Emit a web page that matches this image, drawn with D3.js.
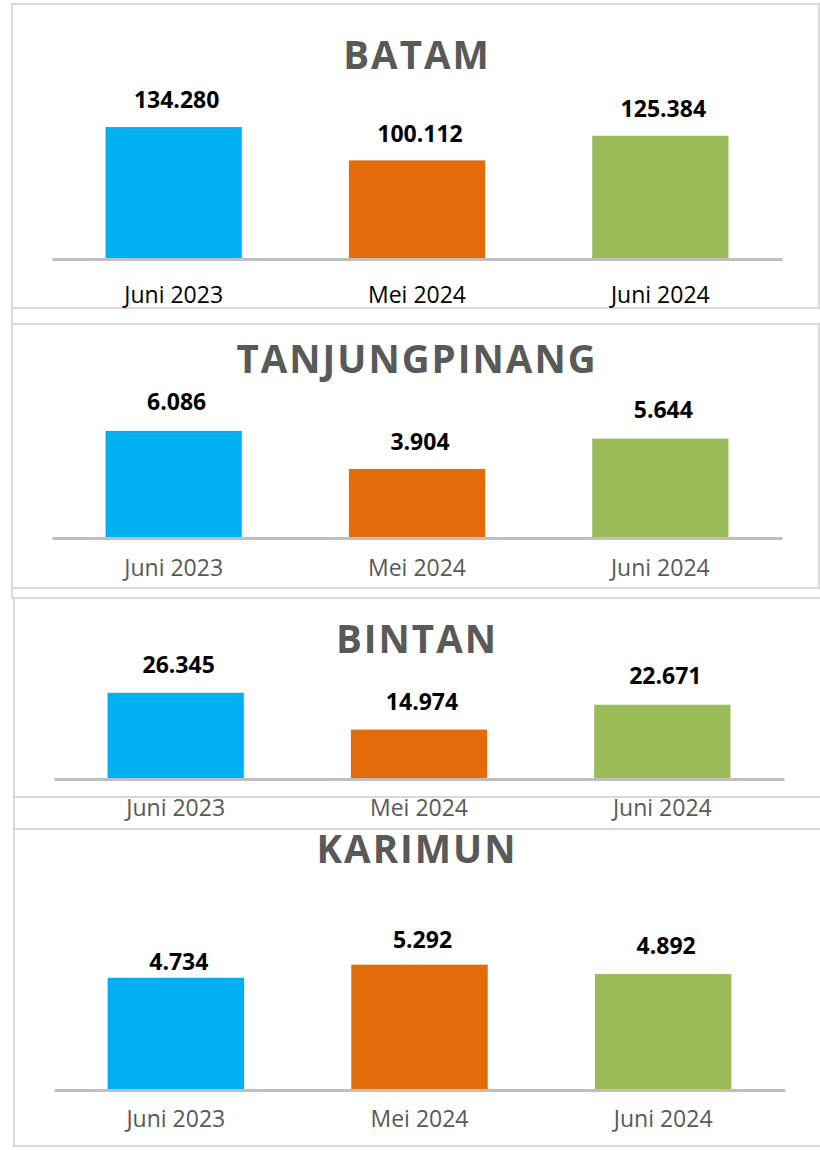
<!DOCTYPE html>
<html>
<head>
<meta charset="utf-8">
<script src="https://cdn.jsdelivr.net/npm/d3@7"></script>
<style>
  body { margin: 0; background: #fff; }
  svg { display: block; font-family: "Open Sans", sans-serif; }
  .frame { fill: none; stroke: #d9d9d9; stroke-width: 2; }
  .title { font-weight: 700; fill: #595959; text-anchor: middle; letter-spacing: 2px; }
  .value { font-weight: 700; fill: #000; text-anchor: middle; }
  .axis .domain { stroke: #bfbfbf; stroke-width: 3; }
  .axis text { font-family: "Open Sans", sans-serif; }
</style>
</head>
<body>
<div class="chart"></div>
<script>
// data
var months = ["Juni 2023", "Mei 2024", "Juni 2024"];
var regions = ["BATAM", "TANJUNGPINANG", "BINTAN", "KARIMUN"];
var batam = [134280, 100112, 125384];
var tanjungpinang = [6086, 3904, 5644];
var bintan = [26345, 14974, 22671];
var karimun = [4734, 5292, 4892];
var colorrange = ["#00b0f0", "#e36c0a", "#9bbb59"];

var series = [batam, tanjungpinang, bintan, karimun];

// layout of each panel
var panels = [
  {titleY: 69, base: 258, yMax: 160000, plotH: 156, x0: 52, x1: 782, pad: 28, labelColor: "#000", lift: [19, 18, 19]},
  {titleY: 373, base: 537, yMax: 7000, plotH: 122, x0: 52, x1: 782, pad: 22, labelColor: "#595959", lift: [21, 19, 21]},
  {titleY: 653, base: 778, yMax: 30000, plotH: 97, x0: 54, x1: 784, pad: 21, labelColor: "#595959", lift: [20, 20, 21]},
  {titleY: 863, base: 1089, yMax: 6000, plotH: 141, x0: 54, x1: 785, pad: 21, labelColor: "#595959", lift: [8, 17, 20]}
];

var frames = [
  {x: 12, y: 4, w: 807, h: 304},
  {x: 12, y: 308, w: 830, h: 16},
  {x: 12, y: 324, w: 807, h: 264},
  {x: 12, y: 588, w: 830, h: 10},
  {x: 14, y: 598, w: 830, h: 199},
  {x: 14, y: 797, w: 830, h: 32},
  {x: 14, y: 829, w: 830, h: 317}
];

var fmt = d3.formatLocale({decimal: ",", thousands: ".", grouping: [3], currency: ["Rp", ""]}).format(",d");

var svg = d3.select(".chart")
  .append("svg")
  .attr("width", 820)
  .attr("height", 1150);

svg.selectAll(".frame")
  .data(frames)
  .enter().append("rect")
    .attr("class", "frame")
    .attr("x", function(d) { return d.x; })
    .attr("y", function(d) { return d.y; })
    .attr("width", function(d) { return d.w; })
    .attr("height", function(d) { return d.h; });

panels.forEach(function(p, k) {
  var values = series[k];
  var data = months.map(function(m, i) { return {month: m, value: values[i], lift: p.lift[i]}; });

  var x = d3.scaleBand()
    .domain(months)
    .range([p.x0, p.x1])
    .paddingInner(0.44)
    .paddingOuter(0.22);
  var y = d3.scaleLinear()
    .domain([0, p.yMax])
    .range([p.base, p.base - p.plotH]);
  var z = d3.scaleOrdinal().domain(months).range(colorrange);

  var g = svg.append("g").attr("class", "panel");

  g.append("text")
    .attr("class", "title")
    .attr("x", 417)
    .attr("y", p.titleY)
    .style("font-size", "38.5px")
    .text(regions[k]);

  g.selectAll(".bar")
    .data(data)
    .enter().append("rect")
      .attr("class", "bar")
      .attr("x", function(d) { return x(d.month); })
      .attr("y", function(d) { return y(d.value); })
      .attr("width", x.bandwidth())
      .attr("height", function(d) { return y(0) - y(d.value); })
      .attr("fill", function(d) { return z(d.month); });

  g.selectAll(".value")
    .data(data)
    .enter().append("text")
      .attr("class", "value")
      .attr("x", function(d) { return x(d.month) + x.bandwidth() / 2 + 3; })
      .attr("y", function(d) { return y(d.value) - d.lift; })
      .style("font-size", "23px")
      .text(function(d) { return fmt(d.value); });

  var axis = g.append("g")
    .attr("class", "axis")
    .attr("transform", "translate(0," + (p.base + 1) + ")")
    .call(d3.axisBottom(x).tickSize(0).tickSizeOuter(0).tickPadding(p.pad));

  axis.selectAll("text")
    .style("font-size", "23px")
    .attr("fill", p.labelColor);
});
</script>
</body>
</html>
